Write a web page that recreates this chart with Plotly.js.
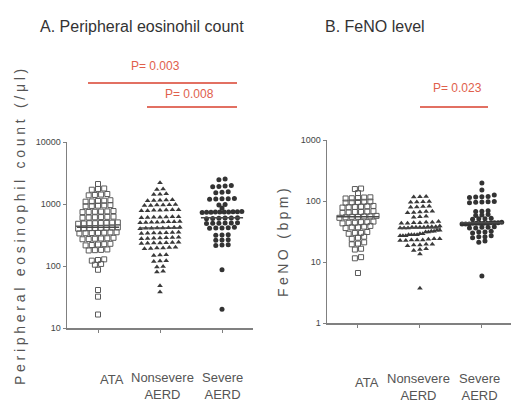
<!DOCTYPE html>
<html>
<head>
<meta charset="utf-8">
<script src="https://cdn.plot.ly/plotly-3.0.1.min.js"></script>
<style>html,body{margin:0;padding:0;background:#fff;}#chart{width:511px;height:404px;}</style>
</head>
<body>
<div id="chart"></div>
<script>
// ---------- data ----------
const groups = ["ATA", "Nonsevere AERD", "Severe AERD"];
const groupLabels = ["ATA", "Nonsevere<br>AERD", "Severe<br>AERD"];

// Panel A: peripheral eosinophil count (/µl)
const eosATA = [2100, 1750, 1700, 1780, 1400, 1380, 1450, 1420, 1120, 1100, 1150, 1130, 1090,
  940, 950, 920, 960, 930, 750, 760, 740, 770, 745, 755, 610, 620, 600, 615, 605, 625,
  490, 495, 485, 500, 490, 480, 495, 505, 410, 415, 405, 420, 400, 412, 418, 408,
  340, 345, 335, 350, 338, 342, 348, 275, 280, 270, 285, 278, 272, 222, 218, 225, 215, 228,
  180, 178, 185, 182, 125, 128, 122, 105, 108, 87, 41, 32, 16.5];
const eosNonsevere = [2200, 1750, 1720, 1440, 1460, 1420, 1150, 1170, 1130, 1160, 1140,
  960, 970, 950, 980, 945, 965, 790, 800, 780, 810, 775, 795, 805, 610, 620, 600, 615, 605, 625, 612,
  510, 515, 505, 520, 500, 512, 508, 518, 410, 415, 405, 420, 400, 412, 418, 408,
  340, 345, 335, 350, 338, 342, 348, 280, 285, 275, 290, 278, 283, 287,
  235, 238, 232, 240, 230, 236, 242, 195, 198, 192, 200, 190, 196,
  150, 152, 148, 120, 122, 118, 96, 98, 80, 82, 48, 38];
const eosSevere = [2520, 2450, 1950, 1900, 1980, 1920, 1550, 1520, 1580, 1210, 1190, 1230, 1200, 1220,
  960, 980, 860, 740, 745, 735, 750, 738, 742, 748, 732, 755, 744,
  590, 595, 585, 600, 580, 592, 490, 495, 485, 500, 488, 492, 410, 415, 405, 420, 412,
  316, 320, 312, 263, 266, 260, 218, 220, 215, 87, 20];

// Panel B: FeNO (bpm)
const fenoATA = [157, 160, 135, 112, 114, 110, 115, 111, 96, 98, 94, 97, 95, 80, 82, 78, 81, 79, 83,
  66, 67, 65, 68, 64, 66, 55, 56, 54, 57, 53, 55, 56, 44, 45, 43, 46, 44, 45,
  37, 38, 36, 37, 39, 30, 31, 29, 30, 25, 26, 24, 20, 21, 19.5, 16, 16.5, 12, 11.5, 6.6];
const fenoNonsevere = [117, 118, 116, 96, 97, 95, 98, 80, 81, 79, 82, 66, 67, 65, 68, 64, 55, 56, 54,
  44, 45, 43, 46, 44, 45, 43, 37, 38, 36, 37, 39, 36, 38, 37, 36, 38, 37, 32, 33, 31, 32, 33, 31,
  28, 29, 27, 28, 29, 27, 28, 28, 27, 23, 24, 22.5, 23, 24, 23, 22.5, 23.5,
  19, 19.5, 18.5, 19, 19.5, 16, 16.5, 15.5, 13.5, 3.7];
const fenoSevere = [197, 151, 125, 116, 118, 114, 117, 96, 97, 95, 98, 94, 68, 69, 67, 59, 60, 58,
  51, 52, 50, 51, 43, 44, 42, 43, 44, 42, 43, 45, 43, 42, 44, 43, 37, 38, 36, 37, 36,
  31, 32, 30, 31, 26, 27, 25, 26, 21, 22, 5.9];

const pLabels = ["P= 0.003", "P= 0.008", "P= 0.023"];

// ---------- helpers ----------
const W = 511, H = 404;
const X = x => x / W, Y = y => 1 - y / H;

function swarm(vals, center) {
  const idx = vals.map((v, i) => i).sort((a, b) => vals[a] - vals[b]);
  const rows = []; let cur = []; let prev = null;
  idx.forEach(i => {
    const lv = Math.log10(vals[i]);
    if (prev !== null && lv - prev > 0.03) { rows.push(cur); cur = []; }
    cur.push(i); prev = lv;
  });
  if (cur.length) rows.push(cur);
  const xs = new Array(vals.length);
  rows.forEach(r => {
    const n = r.length;
    const step = n > 1 ? Math.min(0.1, 0.64 / (n - 1)) : 0;
    r.forEach((i, k) => { xs[i] = center + (k - (n - 1) / 2) * step; });
  });
  return xs;
}
function median(a) {
  const s = a.slice().sort((p, q) => p - q); const m = Math.floor(s.length / 2);
  return s.length % 2 ? s[m] : Math.sqrt(s[m - 1] * s[m]);
}

const styles = [
  {symbol: "square-open", size: 5, color: "#5a5a5a", line: {width: 1, color: "#5a5a5a"}},
  {symbol: "triangle-up", size: 5, color: "#3a3a3a"},
  {symbol: "circle", size: 5, color: "#333333"}
];

const traces = [];
function addPanel(sets, xa, ya) {
  sets.forEach((vals, g) => {
    traces.push({type: "scatter", mode: "markers", x: swarm(vals, g), y: vals,
      xaxis: xa, yaxis: ya, marker: styles[g], hoverinfo: "y", showlegend: false});
    const md = median(vals);
    traces.push({type: "scatter", mode: "lines", x: [g - 0.34, g + 0.34], y: [md, md],
      xaxis: xa, yaxis: ya, line: {color: "#4a4a4a", width: 1.5}, hoverinfo: "skip", showlegend: false});
  });
}
addPanel([eosATA, eosNonsevere, eosSevere], "x", "y");
addPanel([fenoATA, fenoNonsevere, fenoSevere], "x2", "y2");

const sans = "Liberation Sans, Arial, sans-serif";
const tickFont = {family: sans, size: 9, color: "#444"};
const axisCommon = {showline: true, linecolor: "#808080", linewidth: 1.5, ticks: "outside",
  ticklen: 3, tickwidth: 1, tickcolor: "#808080", showgrid: false, zeroline: false, fixedrange: true};

const catFont = {family: sans, size: 13, color: "#555"};
const red = "#d9412e";

const annotations = [
  {text: "A. Peripheral eosinohil count", x: X(38), y: Y(26), xanchor: "left", yanchor: "middle",
   font: {family: sans, size: 16, color: "#333"}},
  {text: "B. FeNO level", x: X(323), y: Y(26), xanchor: "left", yanchor: "middle",
   font: {family: sans, size: 16, color: "#333"}},
  {text: pLabels[0], x: X(155), y: Y(66), font: {family: sans, size: 12, color: "#e0604c"}},
  {text: pLabels[1], x: X(189), y: Y(94), font: {family: sans, size: 12, color: "#e0604c"}},
  {text: pLabels[2], x: X(457), y: Y(88), font: {family: sans, size: 12, color: "#e0604c"}},
  {text: "Peripheral eosinophil count (/μl)", x: X(20), y: Y(225), textangle: -90,
   font: {family: sans, size: 14, color: "#555"}},
  {text: "FeNO (bpm)", x: X(283), y: Y(241), textangle: -90,
   font: {family: sans, size: 14, color: "#555"}},
  {text: groupLabels[0], x: X(112), y: Y(379), font: catFont},
  {text: groupLabels[1], x: X(162), y: Y(386), font: catFont},
  {text: groupLabels[2], x: X(222), y: Y(386), font: catFont},
  {text: groupLabels[0], x: X(367), y: Y(382), font: catFont},
  {text: groupLabels[1], x: X(418), y: Y(387), font: catFont},
  {text: groupLabels[2], x: X(479), y: Y(387), font: catFont}
].map(a => Object.assign({xref: "paper", yref: "paper", showarrow: false, xanchor: "center", yanchor: "middle"}, a));

// target vertical extent (top, bottom in px) of the two spaced y-axis titles
const yTitleFit = [
  {match: "Peripheral eosinophil", top: 65, bottom: 385, cx: 20},
  {match: "FeNO (bpm)", top: 185, bottom: 297, cx: 283}
];

const shapes = [
  [88, 237, 83], [147, 237, 107], [420, 488, 107]
].map(s => ({type: "line", xref: "paper", yref: "paper", x0: X(s[0]), x1: X(s[1]), y0: Y(s[2]), y1: Y(s[2]),
  line: {color: red, width: 1.5}}));

const layout = {
  width: W, height: H, margin: {l: 0, r: 0, t: 0, b: 0},
  paper_bgcolor: "#fff", plot_bgcolor: "#fff", showlegend: false,
  xaxis: Object.assign({}, axisCommon, {domain: [X(67), X(253)], range: [-0.5, 2.5],
    tickvals: [0, 1, 2], showticklabels: false, anchor: "y"}),
  yaxis: Object.assign({}, axisCommon, {domain: [Y(328), Y(142)], type: "log", range: [1, 4],
    tickvals: [10, 100, 1000, 10000], ticktext: ["10", "100", "1000", "10000"], tickfont: tickFont, anchor: "x"}),
  xaxis2: Object.assign({}, axisCommon, {domain: [X(327), 1], range: [-0.5, 2.47],
    tickvals: [0, 1, 2], showticklabels: false, anchor: "y2"}),
  yaxis2: Object.assign({}, axisCommon, {domain: [Y(323), Y(140)], type: "log", range: [0, 3],
    tickvals: [1, 10, 100, 1000], ticktext: ["1", "10", "100", "1000"], tickfont: tickFont, anchor: "x2"}),
  annotations: annotations, shapes: shapes
};

Plotly.newPlot("chart", traces, layout, {displayModeBar: false, staticPlot: true}).then(() => {
  const host = document.getElementById("chart").getBoundingClientRect();
  document.querySelectorAll(".annotation-text").forEach(t => {
    const fit = yTitleFit.find(f => t.textContent.indexOf(f.match) === 0);
    if (!fit) return;
    const n = t.textContent.length;
    let r = t.getBoundingClientRect();
    const spacing = Math.max(0, ((fit.bottom - fit.top) - r.height) / n);
    t.style.letterSpacing = spacing.toFixed(2) + "px";
    r = t.getBoundingClientRect();
    const dys = (fit.top + fit.bottom) / 2 - (r.top - host.top + r.height / 2);
    const dxs = fit.cx - (r.left - host.left + r.width / 2);
    // text is rotated -90deg: local +x = screen up, local +y = screen right
    t.setAttribute("transform", "translate(" + (-dys).toFixed(1) + "," + dxs.toFixed(1) + ")");
  });
});
</script>
</body>
</html>
